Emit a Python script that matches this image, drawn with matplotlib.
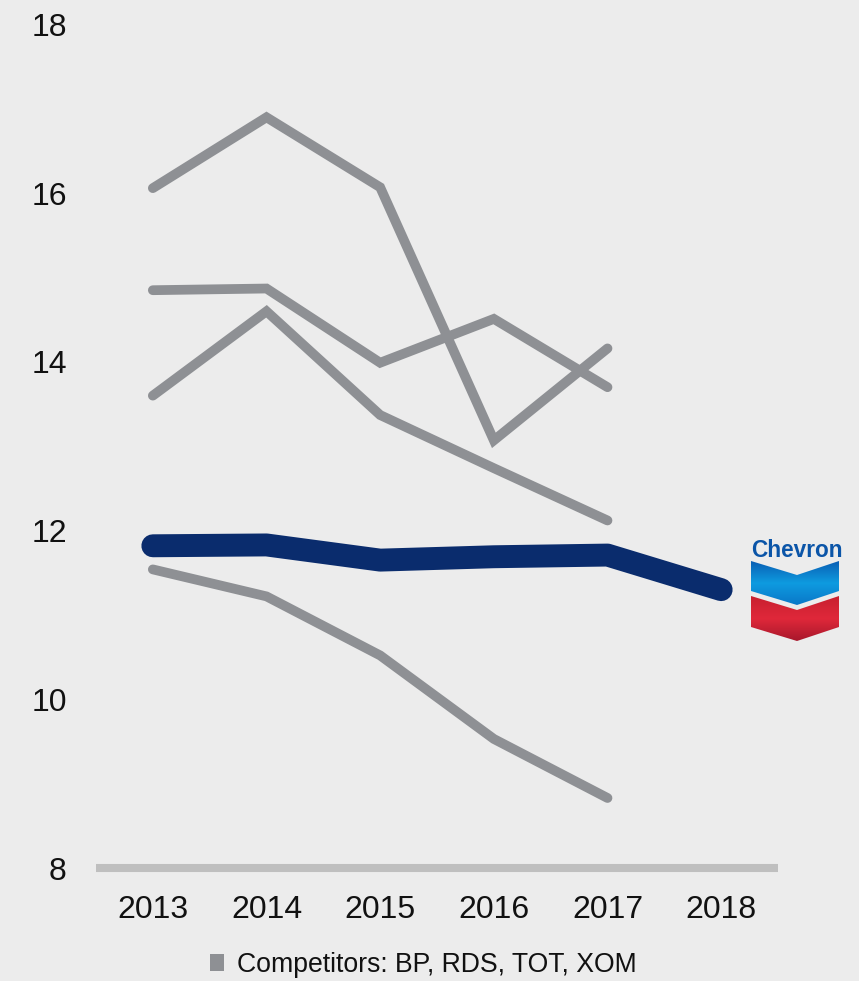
import matplotlib
matplotlib.use("Agg")
import matplotlib.pyplot as plt
from matplotlib.patches import Patch, Polygon
import numpy as np

plt.rcParams['font.family'] = ['Liberation Sans', 'DejaVu Sans']

years = [2013, 2014, 2015, 2016, 2017, 2018]
competitor_years = [2013, 2014, 2015, 2016, 2017]
comp_a = [16.06, 16.90, 16.07, 13.07, 14.16]
comp_b = [14.85, 14.87, 13.99, 14.51, 13.70]
comp_c = [13.60, 14.60, 13.37, 12.74, 12.12]
comp_d = [11.54, 11.22, 10.52, 9.53, 8.83]
chevron = [11.82, 11.83, 11.65, 11.69, 11.71, 11.30]
yticks = [8, 10, 12, 14, 16, 18]
legend_label = "Competitors: BP, RDS, TOT, XOM"

BG = '#ececec'
GRAY = '#8e9094'
NAVY = '#0a2c6d'

W, H = 859, 981
fig = plt.figure(figsize=(W / 100, H / 100), dpi=100, facecolor=BG)
ax = fig.add_axes([96 / W, 1 - 868 / H, (778 - 96) / W, (868 - 24.5) / H])
ax.set_facecolor(BG)

for series in (comp_a, comp_b, comp_c, comp_d):
    ax.plot(competitor_years, series, color=GRAY, lw=7, solid_capstyle='round',
            solid_joinstyle='miter', clip_on=False, zorder=2)
ax.plot(years, chevron, color=NAVY, lw=16.5, solid_capstyle='round',
        solid_joinstyle='round', clip_on=False, zorder=3)

ax.set_xlim(2012.5, 2018.5)
ax.set_ylim(8, 18)
ax.set_xticks(years)
ax.set_xticklabels([str(y) for y in years])
ax.set_yticks(yticks)
ax.set_yticklabels([str(v) for v in yticks])
ax.tick_params(axis='both', length=0, labelsize=23, colors='#111111')
ax.tick_params(axis='y', pad=21)
ax.tick_params(axis='x', pad=19.5)
for s in ('top', 'right', 'left'):
    ax.spines[s].set_visible(False)
ax.spines['bottom'].set_color('#bfbfbf')
ax.spines['bottom'].set_linewidth(5.8)
ax.spines['bottom'].set_capstyle('butt')

# legend
handle = Patch(facecolor=GRAY, edgecolor='none')
fig.legend([handle], [legend_label], loc='center', bbox_to_anchor=(423.5 / W, 1 - 965 / H),
           frameon=False, fontsize=19.2, handlelength=0.52, handleheight=0.56,
           handletextpad=0.5, borderpad=0, labelcolor='#111111')

# Chevron logo
fig.text(751 / W, 1 - 557 / H, "Chevron", fontsize=16.3, fontweight='bold',
         color='#0b55a8', ha='left', va='baseline')

blue_pts = [(751, 561), (797, 575), (839, 561), (839, 591), (797, 605), (751, 591)]
red_pts = [(751, 596), (797, 610), (839, 596), (839, 627), (797, 641), (751, 627)]

logo_ax = fig.add_axes([0, 0, 1, 1], facecolor='none')
logo_ax.set_xlim(0, W)
logo_ax.set_ylim(H, 0)
logo_ax.axis('off')

def gradient_fill(pts, c_top, c_mid, c_bot):
    poly = Polygon(pts, closed=True, facecolor='none', edgecolor='none')
    logo_ax.add_patch(poly)
    xs = [p[0] for p in pts]
    ys = [p[1] for p in pts]
    n = 64
    t = np.linspace(0, 1, n)[:, None]
    c_top = np.array(matplotlib.colors.to_rgb(c_top))
    c_mid = np.array(matplotlib.colors.to_rgb(c_mid))
    c_bot = np.array(matplotlib.colors.to_rgb(c_bot))
    grad = np.where(t < 0.5, c_top + (c_mid - c_top) * (t / 0.5),
                    c_mid + (c_bot - c_mid) * ((t - 0.5) / 0.5))
    img = np.repeat(grad[:, None, :], 2, axis=1)
    im = logo_ax.imshow(img, extent=(min(xs), max(xs), max(ys), min(ys)),
                        aspect='auto', interpolation='bilinear', zorder=5)
    im.set_clip_path(poly)

gradient_fill(blue_pts, '#0a5fb4', '#0e9be0', '#0a78c8')
gradient_fill(red_pts, '#c8202f', '#e0283a', '#a8182c')

fig.savefig('out.png', dpi=100, facecolor=BG)
